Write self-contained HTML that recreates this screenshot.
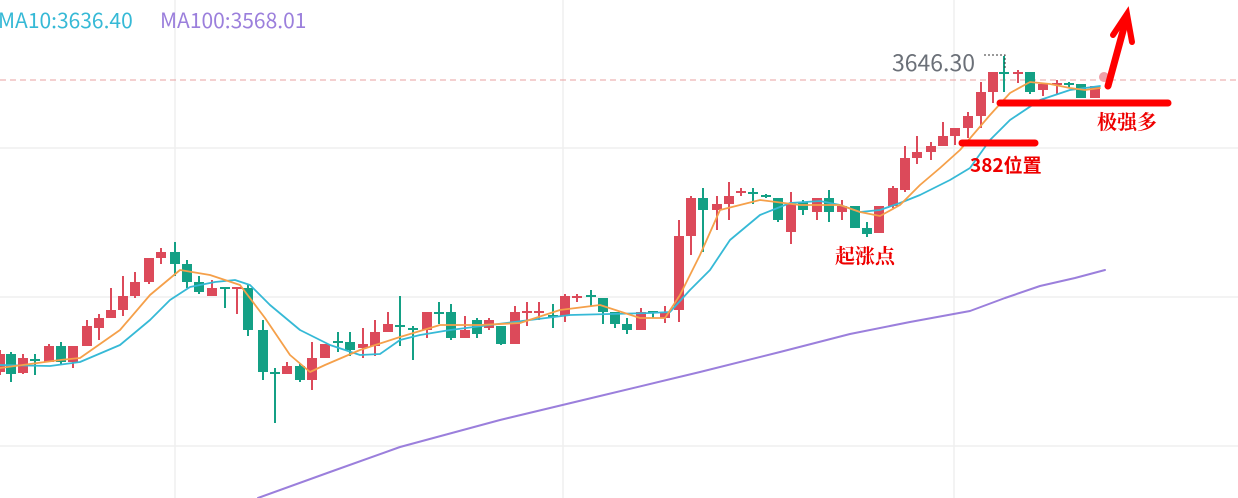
<!DOCTYPE html>
<html><head><meta charset="utf-8"><style>
html,body{margin:0;padding:0;background:#fff;width:1238px;height:498px;overflow:hidden}
svg{display:block}
</style></head><body>
<svg id="s" width="1238" height="498" xmlns="http://www.w3.org/2000/svg" font-family="Noto Sans CJK SC, Liberation Sans, sans-serif">
<g stroke="#efefef" stroke-width="1.5">
<line x1="0" y1="148" x2="1238" y2="148"/><line x1="0" y1="297" x2="1238" y2="297"/><line x1="0" y1="446" x2="1238" y2="446"/>
<line x1="175" y1="0" x2="175" y2="498"/><line x1="563" y1="0" x2="563" y2="498"/><line x1="954" y1="0" x2="954" y2="498"/>
</g>
<line x1="0" y1="80" x2="1238" y2="80" stroke="#e8a0a0" stroke-width="1" stroke-dasharray="6,4"/>
<g id="c"></g>
<g fill="none" stroke-width="1.8" stroke-linejoin="round" stroke-linecap="round">
<polyline stroke="#9b7fdc" stroke-width="2" points="258,498 330,472 400,447 500,420 600,396 700,372 780,352 850,334 910,322 970,311 1005,298 1040,286 1075,278 1105,270"/>
<polyline stroke="#36b9d6" points="0,365 50,366 80,362 120,345 150,320 170,300 190,287 215,282 235,280 250,285 270,305 300,330 330,345 360,355 380,354 400,340 420,335 450,330 490,325 530,320 570,315 610,314 650,313 670,312 690,290 710,270 730,240 760,215 790,203 820,201 840,205 860,212 880,210 900,203 920,195 950,180 970,168 990,140 1010,120 1040,100 1070,90 1100,86"/>
<polyline stroke="#f5a04a" points="0,368 60,360 80,358 120,330 150,295 180,270 210,275 240,285 265,318 290,355 310,372 325,365 360,350 400,337 440,325 480,325 520,323 560,310 600,305 640,318 665,318 680,295 700,255 720,210 760,200 800,205 840,205 860,212 880,216 900,205 920,185 940,168 960,150 990,115 1010,93 1030,82 1050,84 1070,88 1085,90 1100,88"/>
</g>
<text x="-2" y="28" font-size="21" fill="#36b9d6">MA10:3636.40</text>
<text x="160" y="28" font-size="21" fill="#9b7fdc">MA100:3568.01</text>
<text x="892" y="71" font-size="23" fill="#6b7078">3646.30</text>
<polyline fill="none" stroke="#333" stroke-width="1" stroke-dasharray="2,2" points="984,55 1005,55 1005,70"/>
<g stroke="#f00" stroke-linecap="round" fill="none">
<line x1="962" y1="143" x2="1035" y2="143" stroke-width="7"/>
<line x1="1000" y1="103" x2="1168" y2="103" stroke-width="7"/>
<line x1="1108" y1="86" x2="1126" y2="20" stroke-width="7"/>
<polyline points="1113,35 1127,14 1132,42" stroke-width="6"/>
</g>
<text x="970" y="172" font-size="19" font-weight="bold" fill="#e00">382位置</text>
<text x="1097" y="129" font-size="20" font-family="Noto Serif CJK SC, serif" font-weight="bold" fill="#e00">极强多</text>
<text x="835" y="263" font-size="20" font-family="Noto Serif CJK SC, serif" font-weight="bold" fill="#e00">起涨点</text>
</svg>
<script>
var d=[[0,354,372,350,375,'r'],[11,354,374,352,382,'g'],[23,358,373,354,374,'r'],[35,359,361,354,375,'g'],[49,346,362,344,362,'r'],[61,346,362,342,364,'g'],[73,346,362,346,368,'r'],[87,326,346,320,346,'r'],[99,318,328,314,340,'r'],[111,310,318,288,318,'r'],[123,296,310,276,316,'r'],[135,282,296,272,298,'r'],[149,258,282,258,284,'r'],[161,252,258,248,264,'r'],[175,252,264,242,276,'g'],[187,264,282,260,288,'g'],[199,282,292,276,294,'g'],[212,288,296,280,296,'r'],[225,287,289,288,308,'g'],[237,287,289,288,314,'r'],[248,288,330,284,336,'g'],[263,330,372,320,380,'g'],[275,372,374,368,423,'g'],[287,366,374,362,374,'r'],[300,366,380,364,382,'g'],[312,358,380,342,390,'r'],[325,344,358,344,358,'r'],[338,341,343,332,352,'g'],[350,342,350,332,356,'g'],[363,344,348,328,358,'r'],[375,332,346,320,356,'r'],[388,324,332,312,332,'r'],[400,325,327,296,346,'g'],[413,328,330,326,360,'g'],[427,312,330,312,338,'r'],[439,312,314,302,324,'g'],[451,312,338,304,340,'g'],[465,330,338,316,338,'r'],[477,320,334,318,338,'g'],[489,320,328,318,330,'r'],[501,326,344,326,345,'g'],[515,312,344,306,344,'r'],[527,311,313,302,326,'r'],[539,311,313,302,320,'r'],[553,315,317,304,328,'g'],[565,296,316,294,322,'r'],[577,296,298,294,302,'r'],[591,295,297,290,306,'g'],[603,298,312,298,324,'g'],[615,312,324,312,328,'g'],[627,324,330,318,334,'g'],[641,312,330,308,330,'r'],[653,311,313,312,318,'g'],[665,312,318,306,323,'r'],[679,236,310,220,322,'r'],[691,198,236,196,255,'r'],[703,198,210,188,252,'g'],[717,204,210,196,230,'r'],[729,196,204,182,220,'r'],[741,191,193,188,196,'r'],[753,192,194,188,204,'g'],[766,195,197,194,198,'g'],[778,198,220,198,222,'g'],[791,204,232,192,244,'r'],[803,202,210,200,215,'g'],[817,198,212,198,220,'r'],[829,198,212,190,222,'g'],[842,206,212,200,220,'r'],[855,206,228,206,228,'g'],[867,228,234,222,237,'g'],[879,206,233,206,233,'r'],[893,188,206,186,208,'r'],[905,158,190,146,192,'r'],[917,152,158,136,164,'r'],[931,146,152,142,160,'r'],[943,136,146,122,146,'r'],[955,128,136,128,145,'r'],[968,116,128,112,138,'r'],[981,92,116,82,128,'r'],[993,72,92,72,103,'r'],[1004,72,74,56,92,'g'],[1018,72,74,70,83,'r'],[1030,72,92,72,94,'g'],[1043,84,90,84,96,'r'],[1057,83,85,80,94,'r'],[1069,83,85,82,88,'g'],[1081,84,98,84,98,'g'],[1095,86,98,86,98,'r']];
var h='';d.forEach(function(c){var col=c[5]=='r'?'#dc4a5a':'#14a085';h+='<line x1="'+c[0]+'" x2="'+c[0]+'" y1="'+c[3]+'" y2="'+c[4]+'" stroke="'+col+'" stroke-width="2"/><rect x="'+(c[0]-5)+'" y="'+c[1]+'" width="10" height="'+Math.max(2,c[2]-c[1])+'" fill="'+col+'"/>';});
h+='<circle cx="1104" cy="77" r="5" fill="#f0a0a8"/>';
document.getElementById('c').innerHTML=h;
</script>
</body></html>
